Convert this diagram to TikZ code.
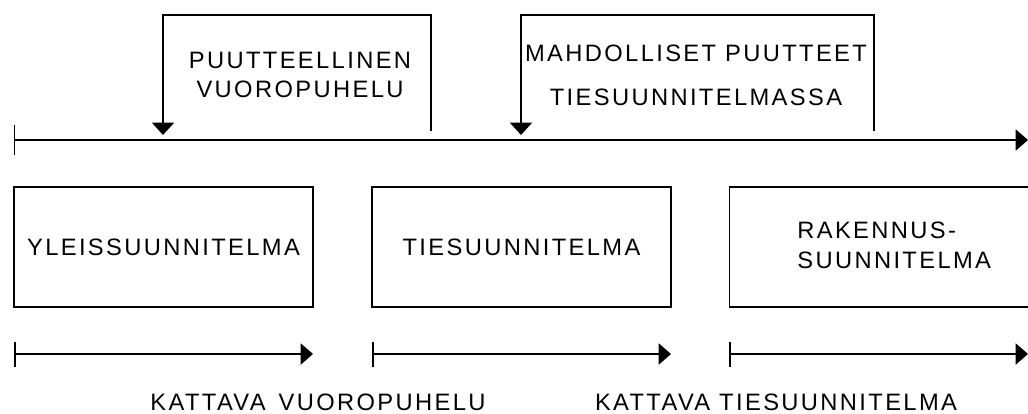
\documentclass[tikz,border=0pt]{standalone}
\usepackage{fontspec}
\setmainfont{Liberation Sans}[LetterSpace=10]
\usetikzlibrary{arrows.meta, positioning}
\tikzstyle{phase} = [rectangle, draw=black, line width=0.8pt, minimum width=5.98cm, minimum height=2.4cm, inner sep=0pt]
\tikzstyle{txt} = [font=\fontsize{13.5}{17}\selectfont, align=center, inner sep=0pt]
\tikzstyle{timeline} = [line width=0.8pt, {Bar[width=0.6cm]}-{Triangle[length=7pt,width=12pt]}]
\tikzstyle{span} = [line width=0.9pt, {Bar[width=0.5cm]}-{Triangle[length=7pt,width=12pt]}]
\tikzstyle{feedback} = [line width=0.8pt, -{Triangle[length=7pt,width=12.5pt]}]

\begin{document}
\begin{tikzpicture}[x=0.02cm, y=-0.02cm]
\useasboundingbox (0,0) rectangle (1028,413);

% Main time line
\coordinate (tstart) at (14,140);
\coordinate (tend) at (1028,140);
\draw [timeline] (tstart) -- (tend);

% Feedback loops
\coordinate (fb1from) at (431,131);
\coordinate (fb1to) at (163,135);
\draw [feedback] (fb1from) -- ++(0,-116) -| (fb1to);
\node (fb1txt) [txt] at (300,75) {PUUTTEELLINEN\\VUOROPUHELU};

\coordinate (fb2from) at (874,131);
\coordinate (fb2to) at (521,135);
\draw [feedback] (fb2from) -- ++(0,-116) -| (fb2to);
\node (fb2txt) [txt] at (696,75) {MAHDOLLISET PUUTTEET\\[8pt]TIESUUNNITELMASSA};

% Planning phases
\node (yleis) [phase] at (163.5,247) {};
\node (yleistxt) [txt] at (yleis.center) {YLEISSUUNNITELMA};
\node (ties) [phase] at (521.5,247) {};
\node (tiestxt) [txt] at (ties.center) {TIESUUNNITELMA};
\node (rak) [phase] at (879,247) {};
\node (raktxt) [txt, align=left, anchor=west] at (797,245) {RAKENNUS-\\SUUNNITELMA};

% Coverage arrows
\coordinate (s1a) at (14,354);
\coordinate (s1b) at (313,354);
\coordinate (s2a) at (372,354);
\coordinate (s2b) at (671,354);
\coordinate (s3a) at (729,354);
\coordinate (s3b) at (1028,354);
\draw [span] (s1a) -- (s1b);
\draw [span] (s2a) -- (s2b);
\draw [span] (s3a) -- (s3b);

% Bottom labels
\node (kat1) [txt] at (318,402) {KATTAVA\, VUOROPUHELU};
\node (kat2) [txt] at (776,402) {KATTAVA TIESUUNNITELMA};

\end{tikzpicture}
\end{document}
